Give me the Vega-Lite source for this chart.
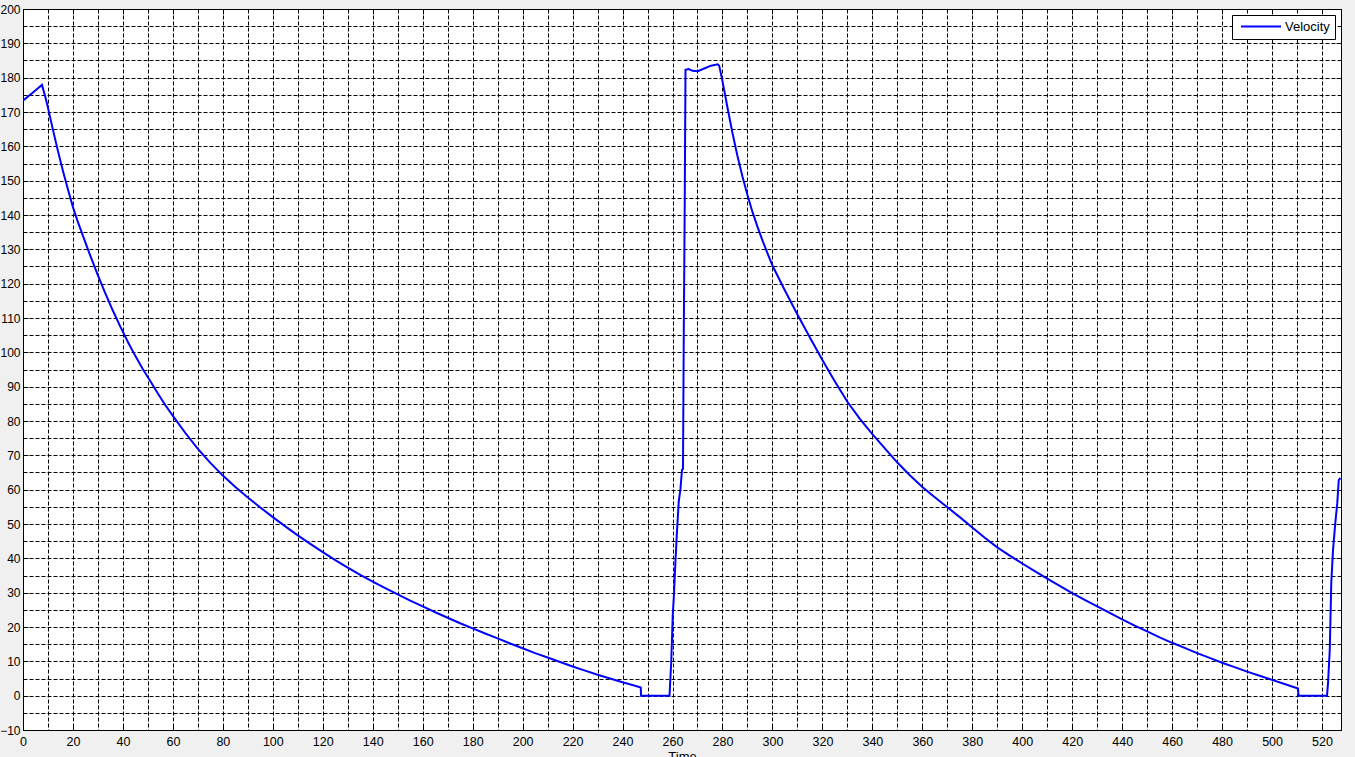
{
  "$schema": "https://vega.github.io/schema/vega-lite/v6.json",
  "width": 1318,
  "height": 721,
  "autosize": {"type": "none"},
  "padding": {"left": 23, "top": 9, "right": 14, "bottom": 27},
  "background": "#f0f0f0",
  "config": {
    "view": {"fill": "white", "stroke": "black", "strokeWidth": 1},
    "font": "Liberation Sans"
  },
  "data": {"values": [
    {"t": 0, "v": 173.3}, {"t": 2, "v": 174.5}, {"t": 4, "v": 175.7}, {"t": 6, "v": 176.9}, {"t": 7.6, "v": 177.9},
    {"t": 9, "v": 174.2}, {"t": 10, "v": 171.2}, {"t": 12, "v": 164.8}, {"t": 14, "v": 158.6}, {"t": 16, "v": 152.8},
    {"t": 18, "v": 147.4}, {"t": 20, "v": 142.3}, {"t": 22, "v": 137.9}, {"t": 24, "v": 133.9}, {"t": 27, "v": 128.0},
    {"t": 30, "v": 122.4}, {"t": 33, "v": 117.1}, {"t": 36, "v": 112.1}, {"t": 39, "v": 107.4}, {"t": 42, "v": 103.0},
    {"t": 45, "v": 98.9}, {"t": 48, "v": 95.1}, {"t": 51, "v": 91.6}, {"t": 54, "v": 88.0}, {"t": 57, "v": 84.6},
    {"t": 60, "v": 81.5}, {"t": 65, "v": 76.5}, {"t": 70, "v": 71.9}, {"t": 75, "v": 67.8}, {"t": 80, "v": 64.1},
    {"t": 85, "v": 60.8}, {"t": 90, "v": 57.7}, {"t": 95, "v": 54.8}, {"t": 100, "v": 52.0}, {"t": 105, "v": 49.3},
    {"t": 110, "v": 46.7}, {"t": 115, "v": 44.2}, {"t": 120, "v": 41.8}, {"t": 125, "v": 39.5}, {"t": 130, "v": 37.3},
    {"t": 135, "v": 35.2}, {"t": 140, "v": 33.2}, {"t": 145, "v": 31.3}, {"t": 150, "v": 29.5}, {"t": 155, "v": 27.7},
    {"t": 160, "v": 26.0}, {"t": 165, "v": 24.3}, {"t": 170, "v": 22.7}, {"t": 175, "v": 21.1}, {"t": 180, "v": 19.6},
    {"t": 185, "v": 18.1}, {"t": 190, "v": 16.7}, {"t": 195, "v": 15.2}, {"t": 200, "v": 13.8}, {"t": 205, "v": 12.4},
    {"t": 210, "v": 11.1}, {"t": 215, "v": 9.8}, {"t": 220, "v": 8.5}, {"t": 225, "v": 7.3}, {"t": 230, "v": 6.1},
    {"t": 235, "v": 5.0}, {"t": 240, "v": 3.9}, {"t": 245, "v": 2.9}, {"t": 247.3, "v": 2.4}, {"t": 247.4, "v": 0},
    {"t": 258.8, "v": 0}, {"t": 259.5, "v": 10}, {"t": 260.1, "v": 23.5}, {"t": 260.5, "v": 28.4}, {"t": 261.2, "v": 39.5},
    {"t": 261.8, "v": 48}, {"t": 262.5, "v": 56.6}, {"t": 263.2, "v": 60.3}, {"t": 263.8, "v": 65.8}, {"t": 264.2, "v": 66},
    {"t": 264.5, "v": 104.4}, {"t": 264.9, "v": 143.7}, {"t": 265.2, "v": 182.3}, {"t": 266.5, "v": 182.5}, {"t": 268, "v": 182},
    {"t": 270.1, "v": 181.9}, {"t": 273.4, "v": 182.9}, {"t": 275.4, "v": 183.5}, {"t": 278.1, "v": 183.9}, {"t": 278.7, "v": 183.5},
    {"t": 280, "v": 179.0}, {"t": 282, "v": 171.3}, {"t": 284, "v": 163.9}, {"t": 286, "v": 157.2}, {"t": 288, "v": 151.2},
    {"t": 290, "v": 145.8}, {"t": 292, "v": 140.9}, {"t": 294, "v": 136.6}, {"t": 296, "v": 132.6}, {"t": 298, "v": 128.9},
    {"t": 300, "v": 125.3}, {"t": 305, "v": 118.0}, {"t": 310, "v": 111.0}, {"t": 315, "v": 104.3}, {"t": 320, "v": 97.8},
    {"t": 325, "v": 91.5}, {"t": 330, "v": 85.6}, {"t": 335, "v": 80.6}, {"t": 340, "v": 76.2}, {"t": 345, "v": 72.0},
    {"t": 350, "v": 67.9}, {"t": 355, "v": 64.2}, {"t": 360, "v": 60.8}, {"t": 365, "v": 57.8}, {"t": 370, "v": 54.9},
    {"t": 375, "v": 52.0}, {"t": 380, "v": 49.0}, {"t": 385, "v": 46.0}, {"t": 390, "v": 43.2}, {"t": 395, "v": 40.8},
    {"t": 400, "v": 38.5}, {"t": 405, "v": 36.3}, {"t": 410, "v": 34.1}, {"t": 415, "v": 32.0}, {"t": 420, "v": 29.9},
    {"t": 425, "v": 27.9}, {"t": 430, "v": 26.0}, {"t": 435, "v": 24.1}, {"t": 440, "v": 22.2}, {"t": 445, "v": 20.4},
    {"t": 450, "v": 18.7}, {"t": 455, "v": 17.0}, {"t": 460, "v": 15.4}, {"t": 465, "v": 13.9}, {"t": 470, "v": 12.4},
    {"t": 475, "v": 11.0}, {"t": 480, "v": 9.6}, {"t": 485, "v": 8.3}, {"t": 490, "v": 7.0}, {"t": 495, "v": 5.8},
    {"t": 500, "v": 4.6}, {"t": 505, "v": 3.4}, {"t": 510.4, "v": 2.1}, {"t": 510.6, "v": 0}, {"t": 522, "v": 0},
    {"t": 522.4, "v": 3.6}, {"t": 523.1, "v": 13.3}, {"t": 523.7, "v": 32.7}, {"t": 524.4, "v": 42.4}, {"t": 525.3, "v": 50.2},
    {"t": 526.1, "v": 56}, {"t": 526.7, "v": 62.8}, {"t": 527.4, "v": 63.4}
  ]},
  "layer": [
    {
      "mark": {"type": "line", "strokeWidth": 2, "clip": true},
      "encoding": {
        "x": {
          "field": "t", "type": "quantitative",
          "scale": {"domain": [0, 527.6], "nice": false, "zero": false},
          "axis": {
            "orient": "bottom",
            "values": [0,10,20,30,40,50,60,70,80,90,100,110,120,130,140,150,160,170,180,190,200,210,220,230,240,250,260,270,280,290,300,310,320,330,340,350,360,370,380,390,400,410,420,430,440,450,460,470,480,490,500,510,520],
            "title": "Time",
            "grid": true, "gridColor": "black", "gridDash": [4, 2], "gridWidth": 1, "gridOpacity": 1,
            "domainColor": "black", "domainWidth": 1,
            "tickSize": -5, "tickWidth": 1,
            "tickColor": {"condition": {"test": "datum.value % 20 === 0", "value": "black"}, "value": "transparent"},
            "labelExpr": "datum.value % 20 === 0 ? datum.label : ''",
            "labelPadding": 10, "labelFlush": false, "labelOverlap": false,
            "labelFont": "Liberation Sans", "labelFontSize": 12.5, "labelColor": "black",
            "titleFont": "Liberation Sans", "titleFontSize": 13, "titleFontWeight": "normal", "titleColor": "black", "titlePadding": 3
          }
        },
        "y": {
          "field": "v", "type": "quantitative",
          "scale": {"domain": [-10, 200], "nice": false, "zero": false},
          "axis": {
            "orient": "left",
            "values": [-10,-5,0,5,10,15,20,25,30,35,40,45,50,55,60,65,70,75,80,85,90,95,100,105,110,115,120,125,130,135,140,145,150,155,160,165,170,175,180,185,190,195,200],
            "title": null,
            "grid": true, "gridColor": "black", "gridDash": [4, 2], "gridWidth": 1, "gridOpacity": 1,
            "domainColor": "black", "domainWidth": 1,
            "tickSize": -5, "tickWidth": 1,
            "tickColor": {"condition": {"test": "datum.value % 10 === 0", "value": "black"}, "value": "transparent"},
            "labelExpr": "datum.value % 10 === 0 ? datum.label : ''",
            "labelPadding": 8, "labelFlush": false, "labelOverlap": false,
            "labelFont": "Liberation Sans", "labelFontSize": 12, "labelColor": "black"
          }
        },
        "color": {
          "datum": "Velocity",
          "scale": {"range": ["#0000ff"]},
          "legend": {
            "orient": "top-right", "offset": 6, "title": null,
            "symbolType": "M-0.5,0H7.5", "symbolSize": 100, "symbolStrokeWidth": 2,
            "labelFont": "Liberation Sans", "labelFontSize": 13, "labelColor": "black", "labelOffset": 35,
            "strokeColor": "black", "fillColor": "white", "padding": 5, "cornerRadius": 0
          }
        }
      }
    },
    {
      "mark": {"type": "line", "opacity": 0},
      "encoding": {
        "x": {
          "field": "t", "type": "quantitative",
          "axis": {
            "orient": "top",
            "values": [0,20,40,60,80,100,120,140,160,180,200,220,240,260,280,300,320,340,360,380,400,420,440,460,480,500,520],
            "title": null, "labels": false, "grid": false,
            "domainColor": "black", "tickColor": "black", "tickSize": -5, "tickWidth": 1
          }
        },
        "y": {
          "field": "v", "type": "quantitative",
          "axis": {
            "orient": "right",
            "values": [-10,0,10,20,30,40,50,60,70,80,90,100,110,120,130,140,150,160,170,180,190,200],
            "title": null, "labels": false, "grid": false,
            "domainColor": "black", "tickColor": "black", "tickSize": -5, "tickWidth": 1
          }
        }
      }
    }
  ],
  "resolve": {"axis": {"x": "independent", "y": "independent"}}
}
